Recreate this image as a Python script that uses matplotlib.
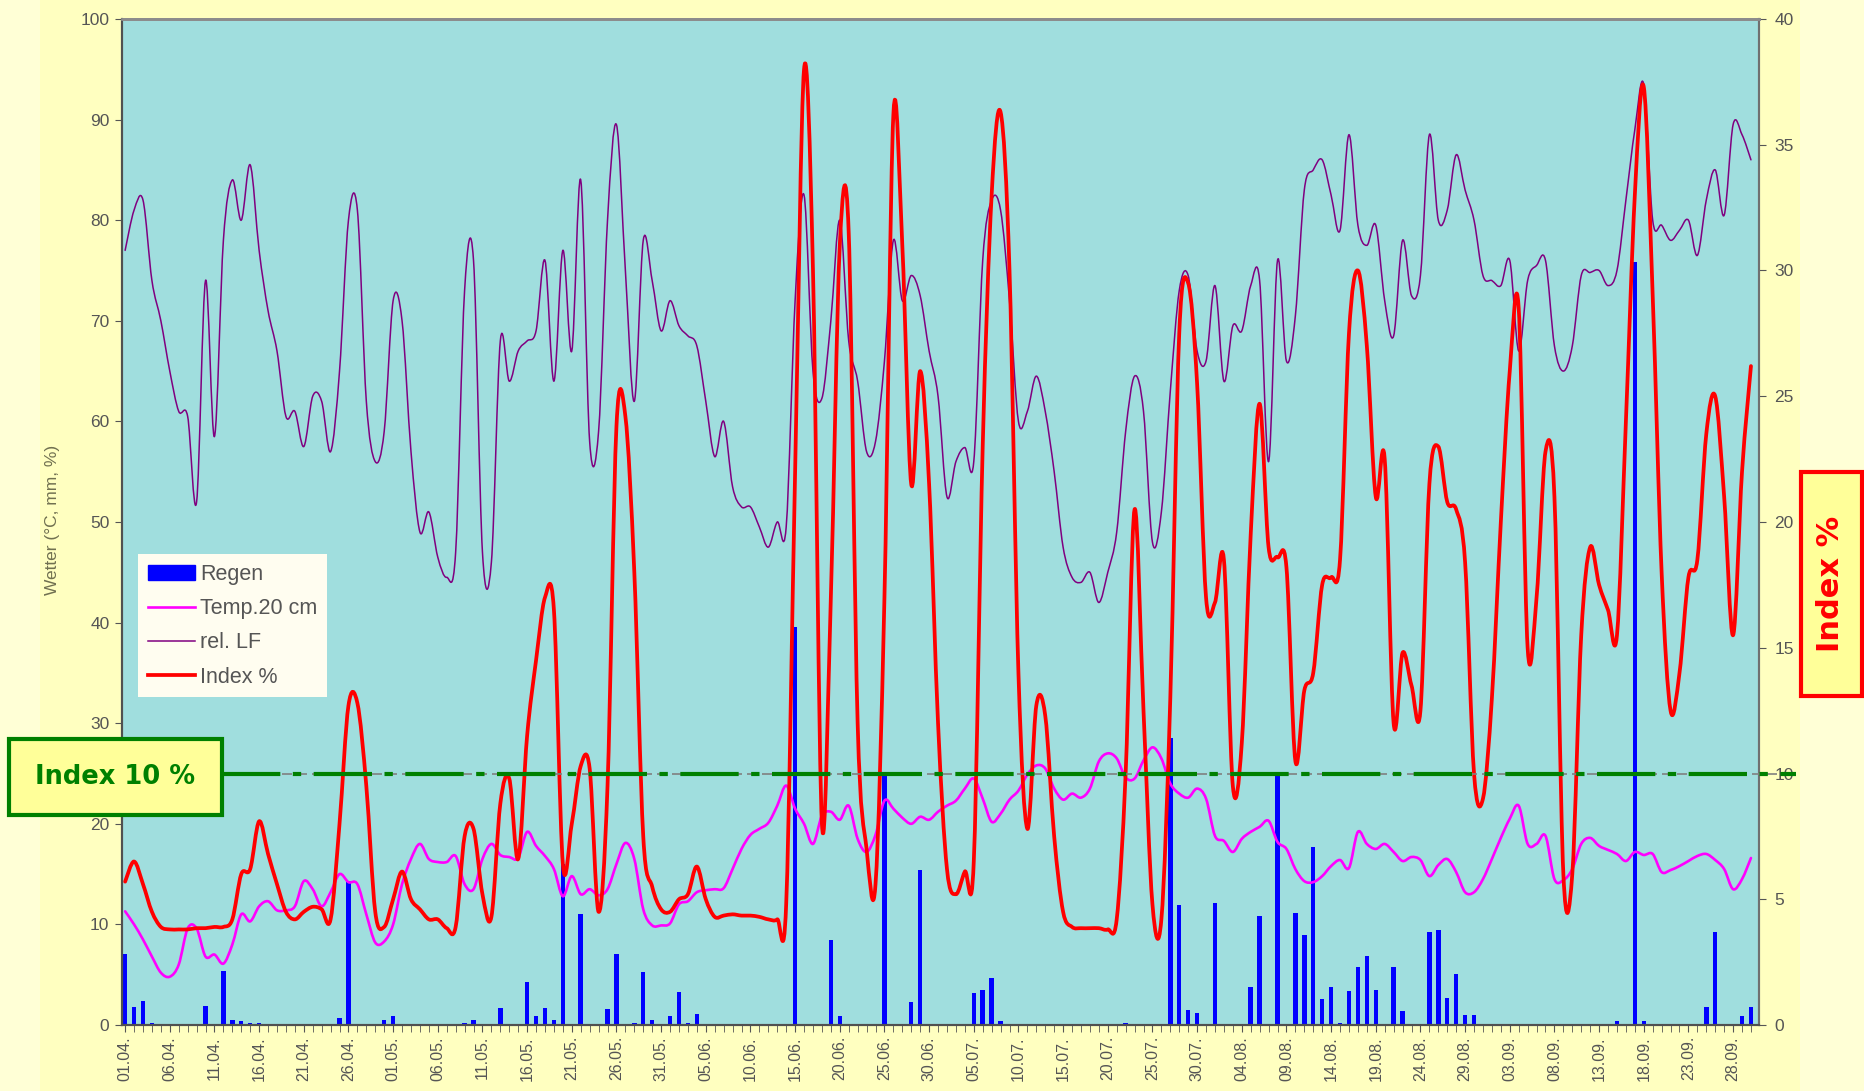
#Wetter und Index-Diagramm 01.04. - 30.09.
import numpy as np
import pandas as pd
import matplotlib
matplotlib.use('Agg')
import matplotlib.pyplot as plt
from matplotlib.patches import Rectangle, Patch, PathPatch
from matplotlib.path import Path
from matplotlib.lines import Line2D

plt.rcParams['font.family'] = ['Liberation Sans', 'DejaVu Sans']

# Tage 01.04. bis 30.09.
tage = [d.strftime('%d.%m.') for d in pd.date_range('2015-04-01', '2015-09-30')]

# rel. Luftfeuchte (%)
rel_lf = [77, 81, 82, 74, 70, 65, 61, 60.5, 52, 74,
          58.5, 78, 84, 80, 85.5, 77, 71, 67, 60.5, 61,
          57.5, 62.5, 62, 57, 65, 80, 81, 62, 56, 59,
          72, 70, 57, 49, 51, 46.5, 44.5, 47, 73, 76,
          47, 46, 68, 64, 67, 68, 69, 76, 64, 77,
          67, 84, 58, 59, 80, 89.5, 75, 62, 78, 74,
          69, 72, 69.5, 68.5, 67.5, 62, 56.5, 60, 53.5, 51.5,
          51.5, 49.5, 47.5, 50, 49.5, 72, 82.5, 65, 62.3, 70,
          80, 68, 64, 57, 58, 66, 78, 72, 74.5, 72.5,
          67, 62.5, 52.5, 56, 57.4, 56, 76, 82, 81, 72,
          60, 61, 64.5, 61, 55, 47.5, 44.5, 44, 45, 42,
          45, 49, 59, 64.5, 61, 48, 51, 63, 73, 74.5,
          67, 66, 73.5, 64, 69.5, 69, 73.5, 74, 56, 76,
          66, 70.5, 83, 85, 86, 82.5, 79, 88.5, 79.5, 77.5,
          79.5, 72, 68.5, 78, 72.5, 74.5, 88.5, 80, 81, 86.5,
          83, 80, 74.5, 74, 73.5, 76, 67, 74, 75.5, 76,
          67.5, 65, 67.5, 74.5, 74.8, 75, 73.5, 75, 82, 89,
          93.5, 80, 79.5, 78, 79, 80, 76.5, 82, 85, 80.5,
          89.5, 88.5, 86]

# Bodentemperatur 20 cm (°C)
temp20 = [11.3, 10, 8.5, 6.8, 5.2, 4.8, 6, 9.6, 9.6, 6.8,
          7, 6.1, 8, 11, 10.3, 11.8, 12.3, 11.4, 11.4, 11.8,
          14.3, 13.5, 11.8, 13.2, 15, 14.2, 14, 11, 8.2, 8.3,
          10, 14, 16.5, 18, 16.5, 16.2, 16.2, 16.8, 14, 13.5,
          16.5, 18, 16.9, 16.7, 16.6, 19.2, 17.8, 16.8, 15.5, 12.8,
          14.8, 13, 13.5, 12.9, 13.5, 16, 18.1, 16.5, 11.5, 9.9,
          9.9, 10.1, 12, 12.3, 13.2, 13.4, 13.5, 13.6, 15.5, 17.5,
          18.9, 19.5, 20.1, 21.8, 23.8, 21.5, 20, 18, 20.8, 21.2,
          20.4, 21.8, 18.5, 17.2, 18.9, 22.3, 21.5, 20.6, 20, 20.7,
          20.4, 21.2, 21.8, 22.3, 23.5, 24.5, 22.5, 20.2, 21, 22.4,
          23.3, 24.9, 25.8, 25.5, 23.5, 22.4, 23, 22.6, 23.5, 26.2,
          27, 26.5, 24.6, 24.5, 26.3, 27.6, 26.5, 24, 23, 22.6,
          23.5, 22.5, 18.8, 18.3, 17.2, 18.5, 19.2, 19.7, 20.3, 18.2,
          17.5, 15.5, 14.3, 14.2, 14.8, 15.8, 16.4, 15.6, 19.2, 18,
          17.5, 18, 17.2, 16.3, 16.7, 16.4, 14.8, 15.9, 16.5, 15.2,
          13.2, 13.2, 14.5, 16.5, 18.6, 20.5, 21.8, 18, 18, 18.8,
          14.5, 14.4, 15.5, 18, 18.6, 17.8, 17.4, 17, 16.3, 17.2,
          16.9, 17, 15.2, 15.4, 15.8, 16.3, 16.8, 17, 16.4, 15.5,
          13.5, 14.5, 16.6]

# Index % (rechte Achse)
index_pct = [5.7, 6.5, 5.6, 4.5, 3.9, 3.8, 3.8, 3.8, 3.85, 3.85,
             3.9, 3.9, 4.2, 6.0, 6.2, 8.1, 6.8, 5.6, 4.5, 4.2,
             4.5, 4.7, 4.6, 4.2, 8.0, 12.7, 12.8, 9.5, 4.5, 3.9,
             5.0, 6.1, 5.0, 4.6, 4.2, 4.2, 3.85, 3.9, 7.5, 7.8,
             5.2, 4.3, 8.8, 9.8, 6.6, 11.5, 14.5, 17, 16.5, 6.4,
             8.0, 10.3, 10.2, 4.5, 9.5, 23.8, 24.2, 18, 7.5, 5.5,
             4.6, 4.5, 5.0, 5.2, 6.3, 5.0, 4.3, 4.35, 4.4, 4.35,
             4.35, 4.3, 4.2, 4.2, 4.8, 22, 38, 30, 8, 17,
             31, 31.5, 12, 7, 5.6, 17, 36.2, 31, 21.5, 26,
             21.5, 12, 6.2, 5.2, 6.1, 6.5, 23, 33, 36.3, 30,
             14, 7.8, 12.7, 12.3, 7.5, 4.5, 3.9, 3.85, 3.85, 3.85,
             3.8, 4.2, 10, 20.5, 12.5, 4.8, 4.2, 13, 27.5, 29.5,
             25.5, 17, 16.8, 18.5, 9.5, 11.2, 19.5, 24.7, 19, 18.6,
             18.2, 10.5, 13.3, 14, 17.5, 17.8, 18.5, 27.5, 30, 27,
             21, 22.5, 12, 14.8, 13.5, 12.5, 21.5, 23, 20.8, 20.5,
             18.4, 10, 9, 13, 20, 26, 28.5, 15, 17, 22.8,
             21, 6, 6, 15.5, 19, 17.5, 16.5, 15.5, 24, 33,
             37.3, 29, 18, 12.5, 14, 17.8, 18.5, 23.5, 25, 21,
             15.5, 22, 26.2]

# Regen (mm): Tag-Nr. und Menge, sonst 0
regen_tag = [0, 1, 2, 3, 9, 11, 12, 13, 14, 15, 24, 25, 29, 30, 38, 39, 42, 45, 46, 47,
             48, 49, 51, 54, 55, 57, 58, 59, 61, 62, 63, 64, 75, 79, 80, 81, 85, 87, 88, 89,
             95, 96, 97, 98, 112, 117, 118, 119, 120, 122, 126, 127, 129, 131, 132, 133, 134,
             135, 136, 137, 138, 139, 140, 142, 143, 146, 147, 148, 149, 150, 151, 167, 169,
             170, 177, 178, 181, 182]
regen_mm = [7.1, 1.8, 2.4, 0.2, 1.9, 5.4, 0.5, 0.35, 0.2, 0.2, 0.7, 14.3, 0.45, 0.85, 0.2, 0.45,
            1.7, 4.3, 0.9, 1.7, 0.45, 16, 11, 1.6, 7.1, 0.2, 5.3, 0.5, 0.9, 3.3, 0.2, 1.1,
            39.6, 8.4, 0.9, 0.1, 24.9, 0.1, 2.3, 15.4, 3.2, 3.5, 4.7, 0.4, 0.15, 28.5, 11.9,
            1.5, 1.2, 12.1, 3.8, 10.8, 24.8, 11.1, 8.9, 17.7, 2.6, 3.8, 0.2, 3.4, 5.8, 6.9,
            3.5, 5.8, 1.4, 9.2, 9.4, 2.7, 5.1, 1.0, 1.0, 0.4, 75.8, 0.4, 1.8, 9.2, 0.9, 1.8]

x = np.arange(len(tage))
regen = np.zeros(len(tage))
regen[regen_tag] = regen_mm


def glatt(a, xs, ys, color, lw, z=3):
    # geglaettete Linie wie in Excel (Bezier durch die Punkte)
    p = np.column_stack([xs, ys]).astype(float)
    n = len(p)
    verts = [p[0]]
    codes = [Path.MOVETO]
    for i in range(n - 1):
        p0 = p[i - 1] if i > 0 else p[i]
        p3 = p[i + 2] if i + 2 < n else p[i + 1]
        verts += [p[i] + (p[i + 1] - p0) / 6, p[i + 1] - (p3 - p[i]) / 6, p[i + 1]]
        codes += [Path.CURVE4] * 3
    a.add_patch(PathPatch(Path(verts, codes), facecolor='none', edgecolor=color, lw=lw,
                          joinstyle='round', capstyle='round', zorder=z))


W, H = 1865, 1091
fig = plt.figure(figsize=(W / 100, H / 100), dpi=100, facecolor='#FFFFC0')
# hellere Randstreifen
fig.add_artist(Rectangle((0, 0), 40 / W, 1, transform=fig.transFigure,
                         facecolor='#FFFFD6', edgecolor='none', zorder=-5))
fig.add_artist(Rectangle((1800 / W, 0), 1 - 1800 / W, 1, transform=fig.transFigure,
                         facecolor='#FFFFD6', edgecolor='none', zorder=-5))

ax = fig.add_axes([122 / W, 1 - 1025 / H, (1759 - 122) / W, (1025 - 19) / H])
ax.set_facecolor('#A0DEDE')

ax.bar(x, regen, width=0.5, color='#0000FF', zorder=2)
glatt(ax, x, temp20, '#FF00FF', 1.9)
glatt(ax, x, rel_lf, '#800080', 1.1)
ax.set_ylim(0, 100)
ax.set_xlim(-0.35, 182.9)

ax2 = ax.twinx()
glatt(ax2, x, index_pct, '#FF0000', 2.7)
ax2.set_ylim(0, 40)
ax2.set_xlim(-0.35, 182.9)

# Schwelle Index 10 %
ax2.axhline(10, xmin=0.061, xmax=1.0226, color='#808080', lw=1.2, ls=(0, (6, 3)),
            clip_on=False, zorder=4)
ax2.axhline(10, xmin=0.061, xmax=1.0226, color='#008000', lw=3, ls=(0, (14, 3, 2, 3)),
            clip_on=False, zorder=5)

tick_col = '#555555'
ax.set_yticks(np.arange(0, 101, 10))
ax.tick_params(axis='y', labelsize=12.5, labelcolor=tick_col, color='#555555', length=5, pad=4)
ax2.set_yticks(np.arange(0, 41, 5))
ax2.tick_params(axis='y', labelsize=12.5, labelcolor=tick_col, color='#555555', length=5, pad=6)
ax.set_xticks(x[::5])
ax.set_xticklabels(tage[::5], rotation=90)
ax.set_xticks(x, minor=True)
ax.tick_params(axis='x', which='both', labelsize=11.5, labelcolor=tick_col, color='#555555',
               length=5, pad=3)

for a in (ax, ax2):
    a.spines['top'].set_color('#8C8C8C')
    a.spines['top'].set_linewidth(2)
    a.spines['left'].set_color('#505050')
    a.spines['left'].set_linewidth(1.5)
    a.spines['bottom'].set_color('#505050')
    a.spines['bottom'].set_linewidth(1.5)
    a.spines['right'].set_color('#707070')
    a.spines['right'].set_linewidth(1.5)

fig.text(53 / W, 1 - 520 / H, 'Wetter (°C, mm, %)', rotation=90, ha='center', va='center',
         color='#707050', fontsize=12.5)

handles = [Patch(facecolor='#0000FF', edgecolor='#0000FF'),
           Line2D([], [], color='#FF00FF', lw=1.9),
           Line2D([], [], color='#800080', lw=1.1),
           Line2D([], [], color='#FF0000', lw=2.7)]
leg = fig.legend(handles, ['Regen', 'Temp.20 cm', 'rel. LF', 'Index %'],
                 loc='upper left', bbox_to_anchor=(138 / W, 1 - 554 / H), borderaxespad=0,
                 fontsize=15.5, frameon=True, fancybox=False, framealpha=1,
                 facecolor='#FFFDF0', edgecolor='none', handlelength=2.2,
                 handletextpad=0.25, labelspacing=0.62, borderpad=0.45)
for t in leg.get_texts():
    t.set_color('#555555')

# Kasten links: Index 10 %
fig.add_artist(Rectangle((9 / W, 1 - 815 / H), 213 / W, 76 / H, transform=fig.transFigure,
                         facecolor='#FFFF99', edgecolor='#008000', lw=3, zorder=10))
fig.text(115 / W, 1 - 777 / H, 'Index 10 %', ha='center', va='center', color='#008000',
         fontsize=18.5, fontweight='bold', family='DejaVu Sans', zorder=11)

# Kasten rechts: Index %
fig.add_artist(Rectangle((1801 / W, 1 - 696 / H), 61 / W, 224 / H, transform=fig.transFigure,
                         facecolor='#FFFF99', edgecolor='#FF0000', lw=3, zorder=10))
fig.text(1831 / W, 1 - 584 / H, 'Index %', rotation=90, ha='center', va='center',
         color='#FF0000', fontsize=22, fontweight='bold', family='DejaVu Sans', zorder=11)

fig.savefig('out.png', dpi=100, facecolor=fig.get_facecolor())
